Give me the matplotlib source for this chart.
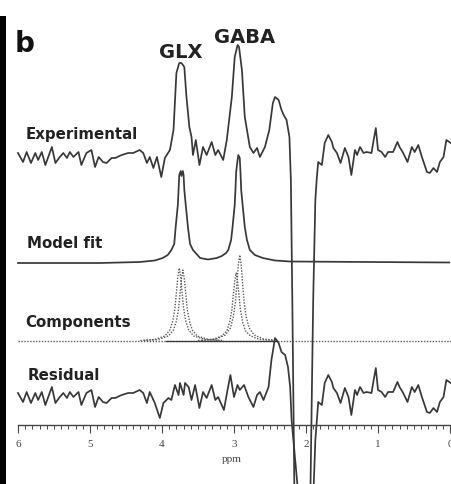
import matplotlib
matplotlib.use("Agg")
from matplotlib import pyplot as plt
from matplotlib.patches import Rectangle
from matplotlib.ticker import FixedLocator, MultipleLocator
import numpy as np

# experimental spectrum, chemical shift (ppm) and intensity (a.u.)
exp_ppm = [6.00, 5.93, 5.88, 5.82, 5.76, 5.72, 5.67, 5.62, 5.53, 5.48,
           5.42, 5.37, 5.32, 5.28, 5.23, 5.16, 5.12, 5.05, 4.98, 4.93,
           4.88, 4.82, 4.77, 4.70, 4.65, 4.56, 4.47, 4.40, 4.31, 4.26,
           4.21, 4.17, 4.12, 4.07, 4.01, 3.96, 3.89, 3.84, 3.80, 3.76,
           3.73, 3.69, 3.66, 3.62, 3.59, 3.57, 3.53, 3.48, 3.43, 3.38,
           3.31, 3.26, 3.22, 3.15, 3.10, 3.03, 2.99, 2.95, 2.93, 2.89,
           2.85, 2.78, 2.73, 2.68, 2.64, 2.57, 2.51, 2.46, 2.43, 2.38,
           2.34, 2.31, 2.27, 2.23, 2.21, 2.19, 2.16, 2.05, 1.94, 1.90,
           1.87, 1.85, 1.83, 1.78, 1.74, 1.69, 1.64, 1.62, 1.57, 1.52,
           1.46, 1.41, 1.37, 1.32, 1.29, 1.25, 1.20, 1.16, 1.09, 1.06,
           1.03, 1.00, 0.95, 0.90, 0.86, 0.79, 0.73, 0.70, 0.65, 0.59,
           0.53, 0.49, 0.44, 0.39, 0.32, 0.28, 0.23, 0.18, 0.14, 0.09,
           0.05, -0.01]
exp_int = [2, -7, 3, -8, 2, -5, 3, -10, 8, -8,
           -2, 2, -3, 3, -2, 3, -10, 2, 5, -12,
           -2, -7, -8, -3, -3, 0, 2, 2, 5, 2,
           -8, -2, -13, -2, -22, -3, 5, 25, 82, 92,
           92, 88, 58, 28, 18, 0, 15, -10, 8, 0,
           13, 0, 5, -5, 15, 58, 98, 110, 108, 85,
           38, 8, 2, 7, -2, 8, 25, 52, 58, 55,
           45, 40, 35, 18, -25, -145, -345, -600, -345, -145,
           -45, -23, -7, -10, 12, 20, 13, 7, 2, -8,
           7, -2, -20, 5, 0, 8, 2, 3, 2, 15,
           27, 5, 3, -2, 3, 3, 13, 8, 2, -7,
           8, 3, 10, -2, -17, -18, -13, -17, -7, -2,
           15, 12]

# model fit (GLX + GABA)
model_ppm = [6.00, 4.86, 4.31, 4.10, 3.99, 3.92, 3.87, 3.83, 3.81, 3.78,
             3.77, 3.76, 3.74, 3.73, 3.71, 3.70, 3.69, 3.67, 3.64, 3.61,
             3.57, 3.47, 3.36, 3.24, 3.17, 3.11, 3.08, 3.04, 3.02, 2.99,
             2.98, 2.97, 2.95, 2.94, 2.92, 2.91, 2.90, 2.88, 2.85, 2.82,
             2.78, 2.71, 2.60, 2.43, 2.22, 0.01]
model_int = [-1, -1, 0, 1.5, 4, 7, 12, 18, 35, 57,
             72, 87, 91, 86, 91, 87, 72, 57, 35, 18,
             12, 4, 2.5, 4, 6, 9, 12, 22, 35, 57,
             72, 90, 102, 107, 104, 90, 72, 57, 35, 22,
             12, 7, 4, 1.5, 0.5, -0.5]

# individual components
glx_a_ppm = [4.30, 4.10, 3.96, 3.89, 3.85, 3.82, 3.80, 3.78, 3.76, 3.74, 3.72, 3.70, 3.67, 3.63, 3.56, 3.40, 3.20]
glx_a_int = [0.5, 1.5, 5, 11, 20, 33, 48, 64, 73, 64, 48, 33, 20, 11, 5, 1.5, 0.5]
glx_b_ppm = [4.25, 4.05, 3.91, 3.84, 3.80, 3.77, 3.75, 3.73, 3.71, 3.69, 3.67, 3.65, 3.62, 3.58, 3.51, 3.35, 3.15]
glx_b_int = [0.5, 1.5, 5, 11, 20, 32, 47, 62, 71, 62, 47, 32, 20, 11, 5, 1.5, 0.5]
gaba_a_ppm = [3.45, 3.25, 3.12, 3.05, 3.01, 2.98, 2.96, 2.94, 2.92, 2.90, 2.88, 2.86, 2.83, 2.79, 2.72, 2.59, 2.40]
gaba_a_int = [0.6, 2, 6, 13, 24, 39, 57, 76, 86, 76, 57, 39, 24, 13, 6, 2, 0.6]
gaba_b_ppm = [3.50, 3.30, 3.17, 3.10, 3.06, 3.03, 3.01, 2.99, 2.97, 2.95, 2.93, 2.91, 2.88, 2.84, 2.77, 2.64, 2.45]
gaba_b_int = [0.5, 1.5, 5, 10, 19, 31, 45, 60, 68, 60, 45, 31, 19, 10, 5, 1.5, 0.5]
comp_base_ppm = [6.00, -0.03]
comp_base_int = [0, 0]
comp_solid_ppm = [3.95, 2.42]
comp_solid_int = [0, 0]

# residual: same as the experimental trace outside the fitted region
res_mid_ppm = [4.17, 4.10, 4.03, 3.98, 3.91, 3.87, 3.82, 3.77, 3.75, 3.70,
               3.68, 3.63, 3.59, 3.54, 3.48, 3.43, 3.38, 3.31, 3.26, 3.22,
               3.14, 3.09, 3.05, 3.00, 2.95, 2.92, 2.86, 2.80, 2.73, 2.68,
               2.64, 2.59, 2.52, 2.48, 2.43, 2.38, 2.34, 2.29, 2.25, 2.22,
               2.20, 2.10, 2.01, 1.90, 1.87, 1.83]
res_mid_int = [3, -8, -23, -8, -3, -5, 10, 0, 12, 0,
               12, 8, -5, 10, -13, 3, -3, 10, -5, -2,
               -15, 5, 20, -2, 10, 5, 10, -2, -12, 0,
               3, -5, 8, 35, 57, 52, 43, 40, 28, 8,
               -25, -105, -600, -105, -45, -7]
res_ppm = exp_ppm[:31] + res_mid_ppm + exp_ppm[83:]
res_int = exp_int[:31] + res_mid_int + exp_int[83:]

# vertical stacking of the traces
EXP_OFF = 329
MODEL_OFF = 222
COMP_OFF = 143
RES_OFF = 89
AXIS_Y = 59

line_col = '#383838'
dot_col = '#5a5a5a'

fig = plt.figure(figsize=(4.52, 4.84), dpi=100)
ax = fig.add_axes([0, 0, 1, 1])
ax.set_xlim(6.25, -0.028)
ax.set_ylim(0, 484)

ax.plot(exp_ppm, np.array(exp_int) + EXP_OFF, color=line_col, lw=1.25)
ax.plot(model_ppm, np.array(model_int) + MODEL_OFF, color=line_col, lw=1.25)
for p, v in [(glx_a_ppm, glx_a_int), (glx_b_ppm, glx_b_int),
             (gaba_a_ppm, gaba_a_int), (gaba_b_ppm, gaba_b_int),
             (comp_base_ppm, comp_base_int)]:
    ax.plot(p, np.array(v) + COMP_OFF, color=dot_col, lw=1.0, dashes=(1, 1.1))
ax.plot(comp_solid_ppm, np.array(comp_solid_int) + COMP_OFF, color=line_col, lw=0.9)
ax.plot(res_ppm, np.array(res_int) + RES_OFF, color=line_col, lw=1.25)

# ppm axis
for s in ['top', 'left', 'right']:
    ax.spines[s].set_visible(False)
ax.spines['bottom'].set_position(('data', AXIS_Y))
ax.spines['bottom'].set_bounds(0, 6)
ax.spines['bottom'].set_color('#444444')
ax.spines['bottom'].set_linewidth(1.0)
ax.yaxis.set_visible(False)
ax.xaxis.set_major_locator(MultipleLocator(1))
ax.xaxis.set_minor_locator(FixedLocator(np.linspace(0, 6, 61)))
ax.xaxis.set_major_formatter(lambda v, pos: '%d' % round(v))
ax.tick_params(axis='x', which='major', direction='out', length=6, width=0.8,
               color='#444444', pad=5, labelsize=8, labelcolor='#444444')
ax.tick_params(axis='x', which='minor', direction='out', length=3, width=0.7,
               color='#444444')
for lab in ax.get_xticklabels():
    lab.set_fontfamily('Liberation Serif')
ax.set_xlabel('ppm', fontfamily='Liberation Serif', fontsize=8, color='#444444')
ax.xaxis.set_label_coords(232 / 452, 1 - 455 / 484)

# labels
lab_kw = dict(fontfamily='DejaVu Sans', fontweight='bold', fontsize=10.8,
              color='#222222', ha='left', va='baseline')
ax.text(5.90, 345, 'Experimental', **lab_kw)
ax.text(5.87, 236, 'Model fit', **lab_kw)
ax.text(5.90, 157, 'Components', **lab_kw)
ax.text(5.87, 104, 'Residual', **lab_kw)
pk_kw = dict(fontfamily='DejaVu Sans', fontweight='bold', fontsize=14,
             color='#222222', ha='center', va='baseline')
ax.text(3.74, 426, 'GLX', **pk_kw)
ax.text(2.86, 441, 'GABA', **pk_kw)
ax.text(6.04, 432, 'b', fontfamily='DejaVu Sans', fontweight='bold',
        fontsize=20, color='#111111', ha='left', va='baseline')

# dark page edge on the left
fig.add_artist(Rectangle((0, 0), 6 / 452, 468 / 484, transform=fig.transFigure,
                         color='black', lw=0))

fig.savefig('out.png', dpi=100)
